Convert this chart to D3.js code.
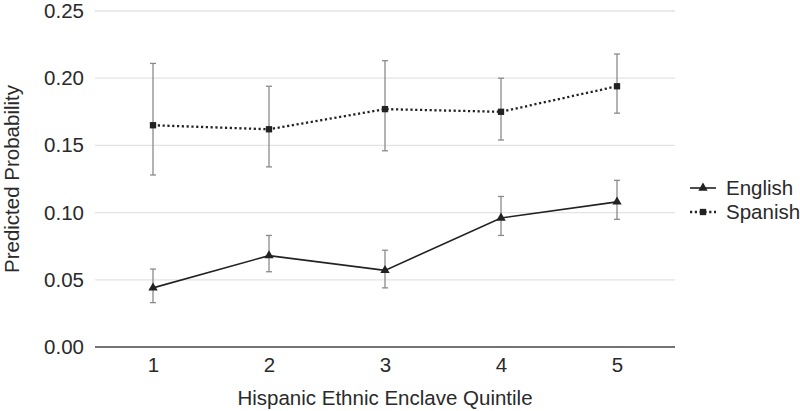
<!DOCTYPE html>
<html>
<head>
<meta charset="utf-8">
<script src="https://cdn.jsdelivr.net/npm/d3@7"></script>
<style>
  html, body { margin: 0; padding: 0; background: #fff; }
  svg { display: block; }
  text { font-family: "Liberation Sans", Arial, Helvetica, sans-serif; fill: #2a2a2a; }
</style>
</head>
<body>
<svg id="chart" width="800" height="411"></svg>
<script>
const categories = ["1", "2", "3", "4", "5"];
const yTicks = [0, 0.05, 0.10, 0.15, 0.20, 0.25];
const seriesNames = ["English", "Spanish"];
const englishValues = [0.044, 0.068, 0.057, 0.096, 0.108];
const englishLower  = [0.033, 0.056, 0.044, 0.083, 0.095];
const englishUpper  = [0.058, 0.083, 0.072, 0.112, 0.124];
const spanishValues = [0.165, 0.162, 0.177, 0.175, 0.194];
const spanishLower  = [0.128, 0.134, 0.146, 0.154, 0.174];
const spanishUpper  = [0.211, 0.194, 0.213, 0.200, 0.218];
const xTitle = "Hispanic Ethnic Enclave Quintile";
const yTitle = "Predicted Probability";

const svg = d3.select("#chart");
const margin = { left: 95, right: 125, top: 11, bottom: 64 };
const W = 800, H = 411;
const FS = "20.5px";
const x = d3.scalePoint().domain(categories).range([margin.left, W - margin.right]).padding(0.5);
const y = d3.scaleLinear().domain([0, 0.25]).range([H - margin.bottom, margin.top]);

// grid lines
svg.append("g").selectAll("line").data(yTicks.slice(1)).join("line")
  .attr("x1", margin.left).attr("x2", W - margin.right)
  .attr("y1", d => y(d)).attr("y2", d => y(d))
  .attr("stroke", "#e3e3e3").attr("stroke-width", 1.3);

// y axis (labels only)
const yAxis = svg.append("g").attr("transform", `translate(${margin.left},0)`)
  .call(d3.axisLeft(y).tickValues(yTicks).tickFormat(d3.format(".2f")).tickSize(0).tickPadding(11));
yAxis.select(".domain").remove();
yAxis.selectAll("text").style("font-size", FS).attr("fill", "#2a2a2a");

// x axis
const xAxis = svg.append("g").attr("transform", `translate(0,${y(0)})`)
  .call(d3.axisBottom(x).tickSize(0).tickPadding(10));
xAxis.select(".domain").attr("d", `M${margin.left},0H${W - margin.right}`).attr("stroke", "#444").attr("stroke-width", 1.6);
xAxis.selectAll("text").style("font-size", FS).attr("fill", "#2a2a2a");

// titles
svg.append("text").attr("x", (margin.left + W - margin.right) / 2).attr("y", 405)
  .attr("text-anchor", "middle").style("font-size", FS).text(xTitle);
svg.append("text").attr("transform", `translate(19,${(y(0) + y(0.25)) / 2}) rotate(-90)`)
  .attr("text-anchor", "middle").style("font-size", FS).text(yTitle);

const series = [
  { name: "English", values: englishValues, lower: englishLower, upper: englishUpper, dash: null, shape: d3.symbolTriangle, size: 38 },
  { name: "Spanish", values: spanishValues, lower: spanishLower, upper: spanishUpper, dash: "2.2,2.6", shape: d3.symbolSquare, size: 40 }
];

series.forEach(s => {
  const g = svg.append("g");
  // error bars
  categories.forEach((c, i) => {
    const cx = x(c);
    g.append("line").attr("x1", cx).attr("x2", cx).attr("y1", y(s.lower[i])).attr("y2", y(s.upper[i]))
      .attr("stroke", "#8a8a8a").attr("stroke-width", 1.3);
    [s.lower[i], s.upper[i]].forEach(v => {
      g.append("line").attr("x1", cx - 3).attr("x2", cx + 3).attr("y1", y(v)).attr("y2", y(v))
        .attr("stroke", "#8a8a8a").attr("stroke-width", 1.3);
    });
  });
  const line = d3.line().x((d, i) => x(categories[i])).y(d => y(d));
  g.append("path").datum(s.values).attr("d", line).attr("fill", "none")
    .attr("stroke", "#222").attr("stroke-width", s.dash ? 2.3 : 1.6)
    .attr("stroke-dasharray", s.dash);
  g.selectAll("path.pt").data(s.values).join("path").attr("class", "pt")
    .attr("transform", (d, i) => `translate(${x(categories[i])},${y(d)})`)
    .attr("d", d3.symbol().type(s.shape).size(s.size)).attr("fill", "#222");
});

// legend
const lg = svg.append("g").attr("transform", "translate(690,188)");
series.forEach((s, i) => {
  const row = lg.append("g").attr("transform", `translate(0,${i * 24})`);
  row.append("line").attr("x1", 0).attr("x2", 26).attr("y1", 0).attr("y2", 0)
    .attr("stroke", "#222").attr("stroke-width", s.dash ? 2.3 : 1.6).attr("stroke-dasharray", s.dash);
  row.append("path").attr("transform", "translate(13,0)")
    .attr("d", d3.symbol().type(s.shape).size(s.size)).attr("fill", "#222");
  row.append("text").attr("x", 36).attr("y", 0).attr("dy", "0.35em").style("font-size", FS).text(s.name);
});
</script>
</body>
</html>
